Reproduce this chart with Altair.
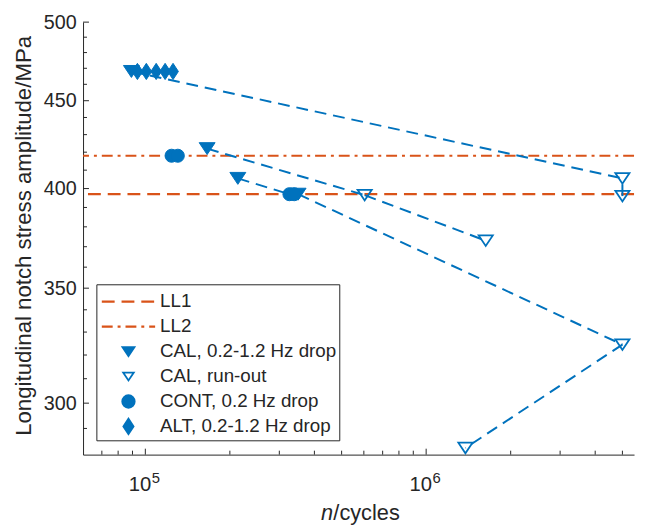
import altair as alt
import pandas as pd

BLUE = "#0072BD"
ORANGE = "#D95319"
AXC = "#262626"
FONT = "Liberation Sans"

# ---------------- data ----------------
ll_names = ["LL1", "LL2"]
ll_values = [397, 418]

cal_drop_n = [89200, 166000, 213500, 350000]
cal_drop_s = [468, 422, 405.5, 397]

cal_runout_n = [604000, 1630000, 5000000, 5000000, 5000000, 1380000]
cal_runout_s = [396.5, 373, 405.5, 396, 324.5, 282.5]

cont_n = [124000, 130500, 326000, 339000]
cont_s = [418, 418, 397, 397]

alt_n = [93700, 100800, 109300, 117600, 125500]
alt_s = [468, 468, 468, 468, 468]

seg_n1 = [89200, 5000000, 166000, 604000, 213500, 350000, 5000000]
seg_s1 = [468, 396, 422, 396.5, 405.5, 397, 324.5]
seg_n2 = [5000000, 5000000, 604000, 1630000, 326000, 5000000, 1380000]
seg_s2 = [405.5, 405.5, 396.5, 373, 397, 324.5, 282.5]

x_major = [1e5, 1e6]
x_major_base = ["10", "10"]
x_major_exp = ["5", "6"]
x_minor = [7e4, 8e4, 9e4, 2e5, 3e5, 4e5, 5e5, 6e5, 7e5, 8e5, 9e5, 2e6, 3e6, 4e6, 5e6]
y_major = [300, 350, 400, 450, 500]
y_minor = [290, 310, 320, 330, 340, 360, 370, 380, 390, 410, 420, 430, 440,
           460, 470, 480, 490]

legend_labels = ["LL1", "LL2", "CAL, 0.2-1.2 Hz drop", "CAL, run-out",
                 "CONT, 0.2 Hz drop", "ALT, 0.2-1.2 Hz drop"]

# ---------------- layout ----------------
W, H = 558, 438
PAD = {"left": 76, "top": 11, "right": 3, "bottom": 71}

xs = alt.Scale(type="log", domain=[6e4, 5.5e6], nice=False)
ys = alt.Scale(type="log", domain=[280, 500], nice=False)

xaxis = alt.Axis(labels=False, ticks=False, grid=False, title=None,
                 domainColor=AXC, domainWidth=1)
yaxis = alt.Axis(values=y_major, labelExpr="datum.value", labelFont=FONT,
                 labelFontSize=20, labelColor=AXC, labelPadding=7,
                 labelFlush=False, labelOverlap=False, ticks=False, grid=False,
                 domainColor=AXC, domainWidth=1,
                 title="Longitudinal notch stress amplitude/MPa",
                 titleFont=FONT, titleFontSize=22.5, titleFontWeight="normal",
                 titleColor=AXC, titleX=-60, titleY=H / 2 - 3, titleAngle=270,
                 titleAlign="center", titleBaseline="middle")


def X():
    return alt.X("n:Q", scale=xs, axis=xaxis)


def Y():
    return alt.Y("s:Q", scale=ys, axis=yaxis)


TRI = "M-1,-0.75L1,-0.75L0,0.75Z"
DIA = "M0,-1L0.66,0L0,1L-0.66,0Z"

layers = []

# limit lines
ll1 = alt.Chart(pd.DataFrame({"s": [ll_values[0]], "k": [ll_names[0]]})).mark_rule(
    color=ORANGE, strokeWidth=2.2, strokeDash=[13, 7]).encode(y=Y())
ll2 = alt.Chart(pd.DataFrame({"s": [ll_values[1]], "k": [ll_names[1]]})).mark_rule(
    color=ORANGE, strokeWidth=2.2, strokeDash=[11, 5, 3, 5]).encode(y=Y())
layers += [ll1, ll2]

# dashed connecting segments
rows = []
for i, (n1, s1, n2, s2) in enumerate(zip(seg_n1, seg_s1, seg_n2, seg_s2)):
    rows.append({"seg": i, "n": n1, "s": s1, "o": 0})
    rows.append({"seg": i, "n": n2, "s": s2, "o": 1})
segs = alt.Chart(pd.DataFrame(rows)).mark_line(
    color=BLUE, strokeWidth=2, strokeDash=[12, 7]).encode(
    x=X(), y=Y(), detail="seg:N", order="o:Q")
layers.append(segs)

# markers
layers.append(alt.Chart(pd.DataFrame({"n": alt_n, "s": alt_s})).mark_point(
    shape=DIA, filled=True, fill=BLUE, stroke=BLUE, strokeWidth=1, opacity=1,
    size=270).encode(x=X(), y=Y()))
layers.append(alt.Chart(pd.DataFrame({"n": cal_drop_n, "s": cal_drop_s})).mark_point(
    shape=TRI, filled=True, fill=BLUE, stroke=BLUE, strokeWidth=1, opacity=1,
    size=260).encode(x=X(), y=Y()))
layers.append(alt.Chart(pd.DataFrame({"n": cont_n, "s": cont_s})).mark_point(
    shape="circle", filled=True, fill=BLUE, stroke=BLUE, strokeWidth=1, opacity=1,
    size=175).encode(x=X(), y=Y()))
layers.append(alt.Chart(pd.DataFrame({"n": cal_runout_n, "s": cal_runout_s})).mark_point(
    shape=TRI, filled=False, stroke=BLUE, strokeWidth=1.8, opacity=1,
    size=205).encode(x=X(), y=Y()))

# axis ticks (inward)
layers.append(alt.Chart(pd.DataFrame({"n": x_major})).mark_rule(
    color=AXC, strokeWidth=1).encode(x=X(), y=alt.value(H), y2=alt.value(H - 6)))
layers.append(alt.Chart(pd.DataFrame({"n": x_minor})).mark_rule(
    color=AXC, strokeWidth=1).encode(x=X(), y=alt.value(H), y2=alt.value(H - 4)))
layers.append(alt.Chart(pd.DataFrame({"s": y_major})).mark_rule(
    color=AXC, strokeWidth=1).encode(y=Y(), x=alt.value(0), x2=alt.value(6)))
layers.append(alt.Chart(pd.DataFrame({"s": y_minor})).mark_rule(
    color=AXC, strokeWidth=1).encode(y=Y(), x=alt.value(0), x2=alt.value(4)))

# x tick labels 10^k
xl = pd.DataFrame({"n": x_major, "b": x_major_base, "e": x_major_exp})
layers.append(alt.Chart(xl).mark_text(
    font=FONT, fontSize=20.5, color=AXC, align="right", baseline="alphabetic",
    dx=6).encode(x=X(), y=alt.value(H + 37), text="b:N"))
layers.append(alt.Chart(xl).mark_text(
    font=FONT, fontSize=15, color=AXC, align="left", baseline="alphabetic",
    dx=6.5).encode(x=X(), y=alt.value(H + 29), text="e:N"))

# x axis title: italic n + /cycles
one = pd.DataFrame({"a": [0]})
layers.append(alt.Chart(one).mark_text(
    font=FONT, fontSize=22, fontStyle="italic", color=AXC, align="left",
    baseline="alphabetic", text="n").encode(x=alt.value(241), y=alt.value(H + 66)))
layers.append(alt.Chart(one).mark_text(
    font=FONT, fontSize=22, color=AXC, align="left",
    baseline="alphabetic", text="/cycles").encode(x=alt.value(253.5), y=alt.value(H + 66)))

# legend
LX0, LX1, LY0, LY1 = 14, 260, 266, 424
layers.append(alt.Chart(one).mark_rect(
    fill="white", stroke=AXC, strokeWidth=1).encode(
    x=alt.value(LX0), x2=alt.value(LX1), y=alt.value(LY0), y2=alt.value(LY1)))
row_y = [283 + i * 25.3 for i in range(len(legend_labels))]
sym_x = 46
layers.append(alt.Chart(one).mark_rule(color=ORANGE, strokeWidth=2.2, strokeDash=[13, 7]).encode(
    x=alt.value(19), x2=alt.value(73), y=alt.value(row_y[0])))
layers.append(alt.Chart(one).mark_rule(color=ORANGE, strokeWidth=2.2, strokeDash=[11, 5, 3, 5]).encode(
    x=alt.value(19), x2=alt.value(73), y=alt.value(row_y[1])))
layers.append(alt.Chart(one).mark_point(shape=TRI, filled=True, fill=BLUE, stroke=BLUE,
                                        opacity=1, size=140).encode(
    x=alt.value(sym_x), y=alt.value(row_y[2])))
layers.append(alt.Chart(one).mark_point(shape=TRI, filled=False, stroke=BLUE, strokeWidth=1.8,
                                        opacity=1, size=115).encode(
    x=alt.value(sym_x), y=alt.value(row_y[3])))
layers.append(alt.Chart(one).mark_point(shape="circle", filled=True, fill=BLUE, stroke=BLUE,
                                        opacity=1, size=155).encode(
    x=alt.value(sym_x), y=alt.value(row_y[4])))
layers.append(alt.Chart(one).mark_point(shape=DIA, filled=True, fill=BLUE, stroke=BLUE,
                                        opacity=1, size=235).encode(
    x=alt.value(sym_x), y=alt.value(row_y[5])))
for lab, yy in zip(legend_labels, row_y):
    layers.append(alt.Chart(one).mark_text(
        font=FONT, fontSize=19, color=AXC, align="left", baseline="middle",
        text=lab).encode(x=alt.value(78), y=alt.value(yy)))

chart = alt.layer(*layers).properties(
    width=W, height=H, padding=PAD,
    autosize=alt.AutoSizeParams(type="none"),
    background="white",
).configure_view(stroke=None)

chart.save("out.html", embed_options={"renderer": "svg", "actions": False})
